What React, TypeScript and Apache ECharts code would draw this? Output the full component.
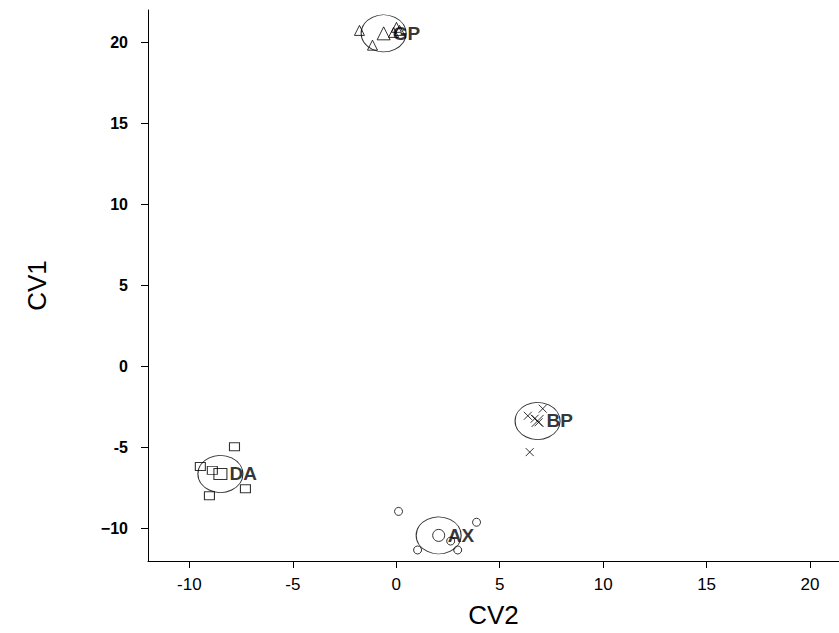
import React, { useEffect, useRef } from "react";
import * as echarts from "echarts";

// Cluster member points [CV2, CV1]
const gpPoints = [[-1.78, 20.74], [-1.15, 19.83], [-0.13, 20.62], [0.01, 20.93], [0.16, 20.74]];
const bpPoints = [[6.36, -3.04], [6.69, -3.22], [7.08, -2.6], [6.88, -3.44], [6.45, -5.28]];
const daPoints = [[-7.82, -4.95], [-9.47, -6.17], [-8.89, -6.41], [-9.03, -7.97], [-7.29, -7.54]];
const axPoints = [[0.11, -8.94], [1.03, -11.32], [2.63, -10.77], [2.97, -11.32], [3.88, -9.61]];

// Group centroids
const groupNames = ["GP", "BP", "DA", "AX"];
const centroids = [[-0.61, 20.56], [6.83, -3.36], [-8.5, -6.63], [2.05, -10.42]];

// Axis ticks
const xTicks = [-10, -5, 0, 5, 10, 15, 20];
const yTicks = [-10, -5, 0, 5, 10, 15, 20];

const CROSS = "path://M0,0L10,10M10,0L0,10";

export default function App() {
  const ref = useRef<HTMLDivElement>(null);
  useEffect(() => {
    if (!ref.current) return;
    const chart = echarts.init(ref.current, null, { renderer: "svg" });
    const stroke = { color: "none", borderColor: "#000", borderWidth: 1 };
    const memberSeries = (data: number[][], symbol: string, size: any) => ({
      type: "scatter",
      data,
      symbol,
      symbolSize: size,
      itemStyle: stroke,
      silent: true,
    });
    chart.setOption({
      animation: false,
      backgroundColor: "#fff",
      grid: { left: 148, right: 0, top: 10, bottom: 63, containLabel: false },
      xAxis: {
        type: "value",
        min: -12,
        max: 21.4,
        name: "CV2",
        nameLocation: "middle",
        nameGap: 41,
        nameTextStyle: { fontFamily: "Liberation Sans", fontSize: 26, color: "#000" },
        axisLine: { show: true, onZero: false, lineStyle: { color: "#000", width: 1 } },
        axisTick: { show: true, length: 7, customValues: xTicks, lineStyle: { color: "#000" } },
        axisLabel: {
          customValues: xTicks,
          fontFamily: "Liberation Sans",
          fontSize: 17,
          color: "#000",
          margin: 15,
        },
        splitLine: { show: false },
      },
      yAxis: {
        type: "value",
        min: -12,
        max: 22,
        name: "CV1",
        nameLocation: "middle",
        nameGap: 98,
        nameRotate: 90,
        nameTextStyle: { fontFamily: "Liberation Sans", fontSize: 26, color: "#000" },
        axisLine: { show: true, onZero: false, lineStyle: { color: "#000", width: 1 } },
        axisTick: { show: true, length: 7, customValues: yTicks, lineStyle: { color: "#000" } },
        axisLabel: {
          customValues: yTicks,
          fontFamily: "Liberation Sans",
          fontSize: 16,
          fontWeight: "bold",
          color: "#000",
          margin: 20,
          formatter: (v: number) => (v === -10 ? "\u221210" : String(v)),
        },
        splitLine: { show: false },
      },
      series: [
        memberSeries(gpPoints, "triangle", 10),
        memberSeries(bpPoints, CROSS, 8),
        memberSeries(daPoints, "rect", [10, 8]),
        memberSeries(axPoints, "circle", 8),
        {
          type: "scatter",
          data: centroids.map((c) => ({ value: c })),
          symbol: "circle",
          symbolSize: [45, 37],
          itemStyle: stroke,
          silent: true,
        },
        memberSeries([centroids[0]], "triangle", 13),
        memberSeries([centroids[1]], CROSS, 12),
        memberSeries([centroids[2]], "rect", [13, 11]),
        memberSeries([centroids[3]], "circle", 12),
        {
          type: "scatter",
          data: centroids.map((c, i) => ({ value: c, name: groupNames[i] })),
          symbolSize: 0,
          silent: true,
          label: {
            show: true,
            position: "right",
            distance: 9,
            formatter: (p: any) => p.name,
            fontFamily: "Liberation Sans",
            fontSize: 19,
            fontWeight: "bold",
            color: "#000",
            textBorderWidth: 0,
          },
        },
      ],
    });
    return () => chart.dispose();
  }, []);
  return (
    <div
      ref={ref}
      style={{ position: "fixed", left: 0, top: 0, width: 839, height: 633, background: "#fff" }}
    />
  );
}
